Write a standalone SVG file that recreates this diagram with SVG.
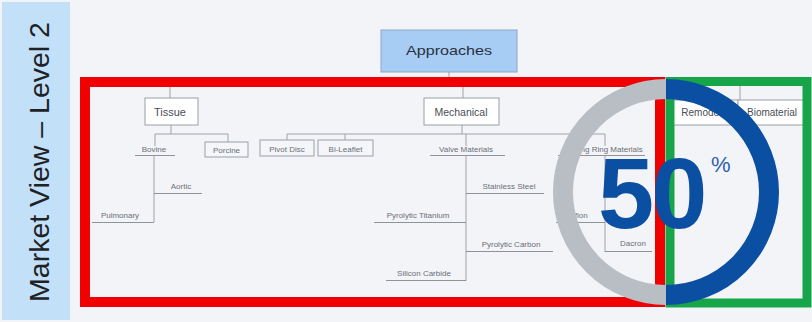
<svg xmlns="http://www.w3.org/2000/svg" width="812" height="322" viewBox="0 0 812 322">
  <style>
    .lbl { font-family: "Liberation Sans", Arial, sans-serif; fill: #6a6e75; font-size: 8px; text-anchor: middle; }
    .big { font-family: "Liberation Sans", Arial, sans-serif; fill: #4a4e55; font-size: 10px; text-anchor: middle; }
    .box { fill: #ffffff; stroke: #9a9ea5; stroke-width: 1; }
    .sbox { fill: #f5f6f9; stroke: #9a9ea5; stroke-width: 1; }
    .ln { fill: none; stroke: #9ea2a8; stroke-width: 1; }
    .ul { fill: none; stroke: #8e9299; stroke-width: 1.2; }
  </style>

  <!-- page background -->
  <rect x="0" y="0" width="812" height="322" fill="#f3f4f8"/>

  <!-- side title panel -->
  <g id="title-panel">
    <rect x="2" y="2" width="68" height="318" fill="#c2e1f9"/>
    <text transform="translate(49,162) rotate(-90)" text-anchor="middle" font-family="'Liberation Sans', Arial, sans-serif" font-size="28.5" fill="#1e2126">Market View – Level 2</text>
  </g>

  <!-- connectors -->
  <g id="connectors">
    <path class="ln" d="M449 72 V82 M170 82 H740 M170 82 V98 M463 82 V98 M740 82 V100"/>
    <!-- tissue branch -->
    <path class="ln" d="M171 125 V134 M155 134 H228 M155 134 V146 M228 134 V142"/>
    <path class="ln" d="M154 156 V222"/>
    <!-- mechanical branch -->
    <path class="ln" d="M462 125 V134 M287 134 H605 M287 134 V140 M345 134 V140 M466 134 V146 M605 134 V146"/>
    <path class="ln" d="M466 156 V281"/>
    <path class="ln" d="M605 156 V252"/>
  </g>

  <!-- root -->
  <g id="approaches">
    <rect x="381" y="30" width="136" height="42" fill="#a8cdf5" stroke="#8fa6c0" stroke-width="1"/>
    <text x="449" y="55" font-family="'Liberation Sans', Arial, sans-serif" font-size="13" fill="#27303d" text-anchor="middle" textLength="86" lengthAdjust="spacingAndGlyphs">Approaches</text>
  </g>

  <g id="tissue">
    <rect class="box" x="145" y="98" width="53" height="27"/>
    <text class="big" x="170" y="116" textLength="32" lengthAdjust="spacingAndGlyphs">Tissue</text>
  </g>
  <g id="mechanical">
    <rect class="box" x="424" y="98" width="75" height="27"/>
    <text class="big" x="461" y="116" textLength="53" lengthAdjust="spacingAndGlyphs">Mechanical</text>
  </g>
  <g id="remodeling">
    <rect class="box" x="672" y="100" width="66" height="25"/>
    <text class="big" x="708" y="116">Remodeling</text>
  </g>
  <g id="biomaterial">
    <rect class="box" x="738" y="100" width="68" height="25"/>
    <text class="big" x="772" y="116">Biomaterial</text>
  </g>

  <!-- tissue children -->
  <g id="bovine">
    <text class="lbl" x="154" y="152">Bovine</text>
    <path class="ul" d="M135 155.5 H175"/>
  </g>
  <g id="porcine">
    <rect class="sbox" x="205" y="142" width="43" height="15"/>
    <text class="lbl" x="226.5" y="153">Porcine</text>
  </g>
  <g id="aortic">
    <text class="lbl" x="181" y="189">Aortic</text>
    <path class="ul" d="M154 193.5 H202"/>
  </g>
  <g id="pulmonary">
    <text class="lbl" x="120" y="218">Pulmonary</text>
    <path class="ul" d="M92 222.5 H154"/>
  </g>

  <!-- mechanical children -->
  <g id="pivot-disc">
    <rect class="sbox" x="260" y="140" width="54" height="16"/>
    <text class="lbl" x="287" y="152">Pivot Disc</text>
  </g>
  <g id="bi-leaflet">
    <rect class="sbox" x="318" y="140" width="55" height="16"/>
    <text class="lbl" x="345.5" y="152">Bi-Leaflet</text>
  </g>
  <g id="valve-materials">
    <text class="lbl" x="466" y="152">Valve Materials</text>
    <path class="ul" d="M430 155.5 H505"/>
  </g>
  <g id="sewing-ring-materials">
    <text class="lbl" x="603" y="152">Sewing Ring Materials</text>
    <path class="ul" d="M558 155.5 H645"/>
  </g>
  <g id="stainless-steel">
    <text class="lbl" x="509" y="189">Stainless Steel</text>
    <path class="ul" d="M466 193.5 H544"/>
  </g>
  <g id="pyrolytic-titanium">
    <text class="lbl" x="418" y="218">Pyrolytic Titanium</text>
    <path class="ul" d="M374 222.5 H466"/>
  </g>
  <g id="pyrolytic-carbon">
    <text class="lbl" x="511" y="247">Pyrolytic Carbon</text>
    <path class="ul" d="M466 251.5 H553"/>
  </g>
  <g id="silicon-carbide">
    <text class="lbl" x="424" y="276">Silicon Carbide</text>
    <path class="ul" d="M386 280.5 H466"/>
  </g>
  <g id="teflon">
    <text class="lbl" x="577" y="218">Teflon</text>
    <path class="ul" d="M556 222.5 H605"/>
  </g>
  <g id="dacron">
    <text class="lbl" x="633" y="246">Dacron</text>
    <path class="ul" d="M605 251.5 H652"/>
  </g>

  <!-- highlight frames -->
  <rect x="85" y="82" width="575" height="220" fill="none" stroke="#f00000" stroke-width="10"/>
  <rect x="670" y="81.5" width="137" height="221.5" fill="none" stroke="#16a548" stroke-width="9"/>

  <!-- 50% gauge -->
  <g id="gauge">
    <path d="M666 89 A103 103 0 0 0 666 295" fill="none" stroke="#b9bdc4" stroke-width="20"/>
    <path d="M666 89 A103 103 0 0 1 666 295" fill="none" stroke="#0b4fa2" stroke-width="20"/>
    <text x="598" y="228" font-family="'Liberation Sans', Arial, sans-serif" font-weight="bold" font-size="101" letter-spacing="-3" fill="#0b4fa2">50</text>
    <text x="711" y="172" font-family="'Liberation Sans', Arial, sans-serif" font-size="22" fill="#2c5fae">%</text>
  </g>
</svg>
